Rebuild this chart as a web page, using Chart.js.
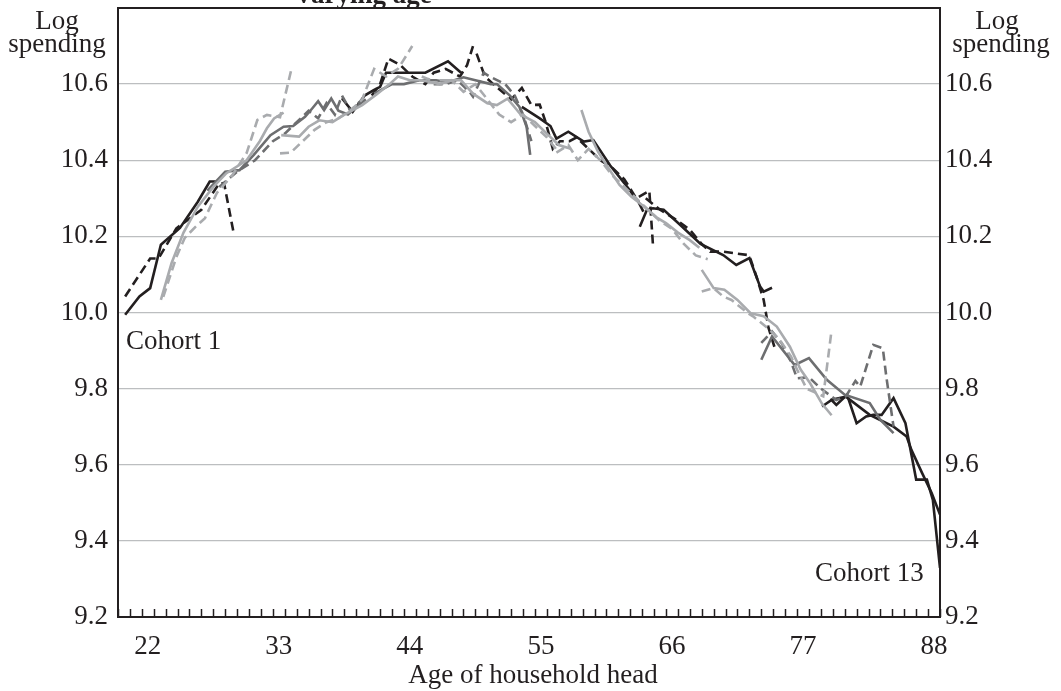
<!DOCTYPE html>
<html>
<head>
<meta charset="utf-8">
<script src="https://cdn.jsdelivr.net/npm/chart.js@4.4.1/dist/chart.umd.min.js"></script>
<style>
  html, body { margin: 0; padding: 0; background: #fff; }
  #wrap { width: 1061px; height: 691px; }
</style>
</head>
<body>
<div id="wrap"><canvas id="spendingChart" width="1061" height="691"></canvas></div>
<script>
// Age ticks and spending ticks shown on the axes
const ageTicks = [22, 33, 44, 55, 66, 77, 88];
const spendTicks = [9.2, 9.4, 9.6, 9.8, 10.0, 10.2, 10.4, 10.6, 10.8];

// Cohort profiles: [age, log spending]
const blackSolid1 = [[20.1, 9.994], [21.3, 10.042], [22.2, 10.064], [23.1, 10.178], [24.7, 10.222], [26.2, 10.291], [27.2, 10.344], [27.9, 10.344]];
const blackDash1 = [[20.1, 10.042], [22.2, 10.142], [22.9, 10.142], [24.4, 10.221], [26.5, 10.27], [28.0, 10.339], [28.4, 10.34], [29.2, 10.21]];
const lightSolid1 = [[23.1, 10.033], [24.0, 10.13], [25.0, 10.21], [26.2, 10.278], [27.5, 10.33], [28.6, 10.366], [30.3, 10.40], [31.4, 10.45], [32.0, 10.484], [32.6, 10.51], [33.4, 10.525]];
const lightDash1 = [[23.3, 10.041], [24.4, 10.146], [25.1, 10.196], [26.0, 10.225], [26.8, 10.248], [27.8, 10.314], [29.1, 10.361], [30.3, 10.419], [31.2, 10.506], [32.0, 10.519], [33.1, 10.513], [34.1, 10.645]];
const darkSolid1 = [[27.0, 10.32], [28.5, 10.37], [29.7, 10.374], [30.9, 10.414], [32.3, 10.466], [33.4, 10.488], [34.2, 10.49], [35.2, 10.514], [35.8, 10.536], [36.3, 10.555], [36.8, 10.532], [37.4, 10.562], [38.0, 10.53], [38.8, 10.52], [39.5, 10.54], [40.3, 10.56]];
const darkDash1 = [[28.0, 10.33], [29.5, 10.37], [31.0, 10.40], [32.5, 10.45], [33.5, 10.47], [34.5, 10.50], [35.5, 10.53], [36.3, 10.51], [37.0, 10.55], [37.7, 10.52], [38.3, 10.57], [39.0, 10.53], [40.0, 10.56]];
const lightSolid2 = [[33.2, 10.466], [34.7, 10.462], [35.5, 10.488], [36.4, 10.505], [37.5, 10.50], [38.5, 10.52], [40.0, 10.545], [41.2, 10.573], [42.3, 10.60], [43.0, 10.62], [44.0, 10.61], [45.0, 10.61], [46.5, 10.60], [47.5, 10.61]];
const lightDash2 = [[33.1, 10.418], [34.0, 10.42], [35.0, 10.45], [36.0, 10.48], [37.0, 10.50], [38.0, 10.51], [39.0, 10.53], [40.0, 10.56], [41.0, 10.64], [42.0, 10.62], [43.0, 10.64], [44.2, 10.70]];
const blackSolid2 = [[38.3, 10.563], [39.2, 10.527], [40.2, 10.57], [41.0, 10.585], [41.5, 10.593], [42.0, 10.63], [45.3, 10.63], [47.2, 10.66], [48.3, 10.63]];
const blackDash2 = [[40.8, 10.57], [41.5, 10.60], [42.2, 10.667], [43.2, 10.65], [44.2, 10.62], [45.3, 10.60], [46.0, 10.63], [47.0, 10.64], [48.2, 10.62], [48.8, 10.65], [49.3, 10.70]];
const darkSolid2 = [[41.0, 10.575], [42.5, 10.60], [43.5, 10.60], [44.8, 10.61], [46.2, 10.61], [47.2, 10.605], [48.5, 10.618], [49.5, 10.61], [50.8, 10.60], [51.3, 10.60], [52.4, 10.57], [53.2, 10.54], [53.8, 10.488], [54.1, 10.414]];
const darkDash2 = [[46.0, 10.60], [47.0, 10.60], [48.0, 10.61], [49.0, 10.58], [49.3, 10.567], [50.2, 10.63], [50.7, 10.62], [52.0, 10.60], [52.8, 10.57], [53.5, 10.52], [54.2, 10.45]];
const lightSolid3 = [[46.5, 10.61], [48.3, 10.61], [49.3, 10.575], [50.5, 10.55], [51.3, 10.545], [52.2, 10.562], [53.3, 10.52], [54.5, 10.50], [55.5, 10.47], [56.5, 10.44], [57.5, 10.43]];
const lightDash3 = [[45.0, 10.62], [46.5, 10.60], [47.5, 10.61], [48.5, 10.58], [49.5, 10.60], [50.5, 10.56], [51.5, 10.52], [52.5, 10.50], [53.5, 10.52], [54.5, 10.49], [55.5, 10.46], [56.5, 10.42]];
const blackSolid3 = [[53.4, 10.54], [54.9, 10.51], [55.8, 10.49], [56.3, 10.457], [57.3, 10.475], [58.6, 10.449], [59.4, 10.453], [60.8, 10.387], [62.0, 10.34], [63.2, 10.29], [63.6, 10.265]];
const blackDash3 = [[49.6, 10.68], [50.3, 10.62], [51.0, 10.60], [52.5, 10.56], [53.4, 10.59], [54.2, 10.545], [54.9, 10.546], [55.4, 10.50], [56.0, 10.43], [56.6, 10.45], [57.4, 10.45], [58.0, 10.46], [59.0, 10.43], [60.0, 10.40], [61.0, 10.38], [62.0, 10.35], [63.0, 10.30], [64.1, 10.32], [64.4, 10.18]];
const blackSolid4 = [[63.3, 10.225], [63.9, 10.27], [64.4, 10.274], [65.3, 10.27], [66.7, 10.23], [68.4, 10.18], [70.3, 10.151], [71.4, 10.125], [72.5, 10.143], [73.4, 10.068], [73.7, 10.055], [74.4, 10.065]];
const blackDash4 = [[63.8, 10.30], [65.0, 10.27], [66.4, 10.243], [67.5, 10.217], [68.5, 10.18], [69.2, 10.16], [70.3, 10.16], [71.4, 10.155], [72.4, 10.151], [72.6, 10.14], [73.1, 10.094], [73.7, 10.033], [74.1, 9.96], [74.6, 9.91]];
const lightSolid4 = [[58.4, 10.532], [59.0, 10.475], [59.8, 10.422], [60.6, 10.383], [61.6, 10.335], [62.6, 10.304], [63.6, 10.28], [64.7, 10.25], [65.5, 10.235], [66.5, 10.21], [67.5, 10.19], [68.3, 10.17]];
const lightDash4 = [[56.3, 10.42], [57.3, 10.44], [58.1, 10.40], [59.0, 10.43], [60.0, 10.40], [61.0, 10.36], [62.0, 10.33], [63.0, 10.30], [64.0, 10.27], [65.0, 10.24], [66.0, 10.22], [67.0, 10.18], [68.0, 10.15], [69.0, 10.14]];
const lightSolid5 = [[68.5, 10.112], [69.5, 10.064], [70.4, 10.06], [71.5, 10.033], [72.6, 9.998], [73.7, 9.99], [74.8, 9.963], [75.9, 9.91], [76.8, 9.85], [77.6, 9.814], [78.6, 9.76], [79.4, 9.73]];
const lightDash5 = [[68.5, 10.055], [69.5, 10.064], [70.3, 10.042], [71.0, 10.033], [72.3, 10.0], [72.8, 9.99], [74.0, 9.96], [75.0, 9.93], [76.0, 9.884], [76.5, 9.85], [77.3, 9.80], [78.0, 9.79], [78.7, 9.78], [79.4, 9.954]];
const darkSolid3 = [[73.5, 9.876], [74.4, 9.937], [76.3, 9.862], [77.5, 9.88], [79.0, 9.823], [80.5, 9.784], [82.6, 9.762], [83.5, 9.718], [84.6, 9.683]];
const darkDash3 = [[73.5, 9.92], [74.4, 9.95], [75.2, 9.92], [76.0, 9.87], [76.5, 9.827], [77.5, 9.83], [78.5, 9.80], [79.8, 9.77], [80.6, 9.78], [81.4, 9.82], [81.8, 9.805], [82.9, 9.915], [83.7, 9.906], [84.0, 9.83], [84.6, 9.70]];
const blackSolid5 = [[78.6, 9.753], [79.4, 9.77], [79.8, 9.757], [80.7, 9.784], [81.5, 9.709], [82.3, 9.727], [82.9, 9.731], [83.6, 9.731], [84.6, 9.775], [85.6, 9.709], [86.5, 9.561], [87.4, 9.561], [87.9, 9.508], [88.5, 9.329]];
const blackSolid6 = [[79.3, 9.77], [80.6, 9.779], [82.6, 9.731], [84.6, 9.70], [85.7, 9.674], [86.1, 9.639], [87.0, 9.578], [87.8, 9.526], [88.5, 9.469]];

const INK = '#231f20';
const styles = {
  black: { color: '#231f20', dash: [] },
  blackDash: { color: '#231f20', dash: [9, 5] },
  dark: { color: '#6d6e70', dash: [] },
  darkDash: { color: '#6d6e70', dash: [9, 5] },
  light: { color: '#a9abae', dash: [] },
  lightDash: { color: '#a9abae', dash: [9, 5] }
};

// light lines first so the black ones sit on top
const series = [
  [lightSolid1, 'light'], [lightDash1, 'lightDash'], [lightSolid2, 'light'], [lightDash2, 'lightDash'],
  [lightSolid3, 'light'], [lightDash3, 'lightDash'], [lightSolid4, 'light'], [lightDash4, 'lightDash'],
  [lightSolid5, 'light'], [lightDash5, 'lightDash'],
  [darkSolid1, 'dark'], [darkDash1, 'darkDash'], [darkSolid2, 'dark'], [darkDash2, 'darkDash'],
  [darkSolid3, 'dark'], [darkDash3, 'darkDash'],
  [blackSolid1, 'black'], [blackDash1, 'blackDash'], [blackSolid2, 'black'], [blackDash2, 'blackDash'],
  [blackSolid3, 'black'], [blackDash3, 'blackDash'], [blackSolid4, 'black'], [blackDash4, 'blackDash'],
  [blackSolid5, 'black'], [blackSolid6, 'black']
];

const datasets = series.map(([pts, key]) => ({
  data: pts.map(p => ({ x: p[0], y: p[1] })),
  borderColor: styles[key].color,
  borderDash: styles[key].dash,
  borderWidth: 2.6,
  pointRadius: 0,
  tension: 0,
  fill: false
}));

const serif = 'Liberation Serif, Times New Roman, serif';
const textSize = 27;

// keep the plot box fixed: no extra room for half labels at the ends
function fixScale(size) {
  return s => {
    if (s.isHorizontal()) s.height = size; else s.width = size;
    s.paddingTop = 0; s.paddingBottom = 0; s.paddingLeft = 0; s.paddingRight = 0;
  };
}

// extra text and the small inward tick marks on the age axis
const decorations = {
  id: 'decorations',
  afterDraw(chart) {
    const { ctx, chartArea: area, scales } = chart;
    const x = scales.x;
    ctx.save();
    ctx.strokeStyle = INK;
    ctx.lineWidth = 1.5;
    for (let a = 19.5; a <= 88.5; a += 1) {
      const px = Math.round(x.getPixelForValue(a)) + 0.5;
      ctx.beginPath();
      ctx.moveTo(px, area.bottom);
      ctx.lineTo(px, area.bottom - 8);
      ctx.stroke();
    }
    ctx.fillStyle = INK;
    // heading sits mostly above the top edge of the page
    ctx.font = 'bold ' + textSize + 'px ' + serif;
    ctx.textAlign = 'left';
    ctx.textBaseline = 'alphabetic';
    ctx.fillText('Varying age', 294, 3);
    ctx.font = textSize + 'px ' + serif;
    ctx.textAlign = 'center';
    ctx.fillText('Log', 57, 29);
    ctx.fillText('spending', 57, 52);
    ctx.fillText('Log', 997, 29);
    ctx.fillText('spending', 1001, 52);
    ctx.fillText('Age of household head', 533, 683);
    ctx.textAlign = 'left';
    ctx.fillText('Cohort 1', 126, 349);
    ctx.fillText('Cohort 13', 815, 581);
    ctx.restore();
  }
};

const tickFont = { family: serif, size: textSize };

new Chart(document.getElementById('spendingChart'), {
  type: 'line',
  data: { datasets },
  options: {
    responsive: false,
    animation: false,
    layout: { padding: { top: 8, left: 0, right: 0, bottom: 0 } },
    plugins: { legend: { display: false }, tooltip: { enabled: false } },
    scales: {
      x: {
        type: 'linear',
        min: 19.5,
        max: 88.5,
        afterBuildTicks: s => { s.ticks = ageTicks.map(v => ({ value: v })); },
        afterFit: fixScale(74),
        grid: { display: false },
        border: { display: true, color: INK, width: 2 },
        ticks: { color: INK, font: tickFont, padding: 6, maxRotation: 0, autoSkip: false }
      },
      y: {
        position: 'left',
        min: 9.2,
        max: 10.8,
        afterBuildTicks: s => { s.ticks = spendTicks.map(v => ({ value: v })); },
        afterFit: fixScale(118),
        grid: {
          drawTicks: false,
          color: c => (c.tick && c.tick.value > 10.7 ? INK : '#bcbec0'),
          lineWidth: c => (c.tick && c.tick.value > 10.7 ? 2 : 1.3)
        },
        border: { display: true, color: INK, width: 2 },
        ticks: {
          color: INK, font: tickFont, padding: 10,
          callback: v => (v > 10.7 ? '' : v.toFixed(1))
        }
      },
      y2: {
        position: 'right',
        min: 9.2,
        max: 10.8,
        afterBuildTicks: s => { s.ticks = spendTicks.map(v => ({ value: v })); },
        afterFit: fixScale(121),
        grid: { drawOnChartArea: false, drawTicks: false },
        border: { display: true, color: INK, width: 2 },
        ticks: {
          color: INK, font: tickFont, padding: 5,
          callback: v => (v > 10.7 ? '' : v.toFixed(1))
        }
      }
    }
  },
  plugins: [decorations]
});
</script>
</body>
</html>
